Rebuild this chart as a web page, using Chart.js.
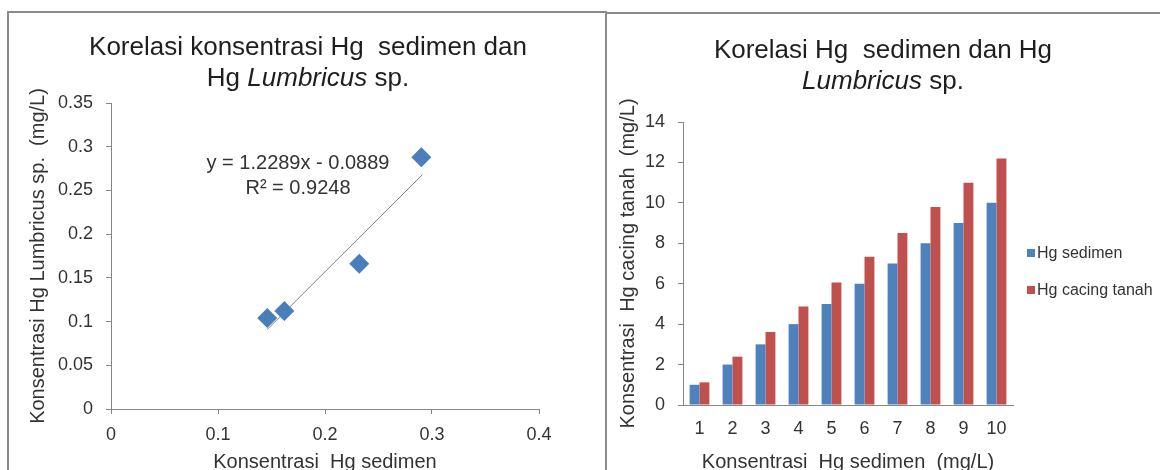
<!DOCTYPE html>
<html>
<head>
<meta charset="utf-8">
<script src="https://cdn.jsdelivr.net/npm/chart.js@4"></script>
<style>
  body{margin:0;width:1160px;height:470px;overflow:hidden;background:#fff;position:relative;
       font-family:"Liberation Sans",Arial,sans-serif;color:#222}
  .frame{position:absolute;box-sizing:border-box;border-top:2px solid #8a8a8a;border-left:2px solid #8a8a8a}
  .abs{position:absolute}
  .title{position:absolute;text-align:center;font-size:26px;line-height:31px;color:#1e1e1e;white-space:pre}
  .eq{position:absolute;text-align:center;font-size:20px;line-height:25px;color:#333;white-space:pre}
  .legend{position:absolute;left:1027px;font-size:16px;color:#333;white-space:pre}
  .legend span{display:inline-block;width:8px;height:8px;margin-right:2px;vertical-align:1px}
</style>
</head>
<body>
<div class="frame" style="left:7px;top:11px;width:600px;height:470px"></div>
<div class="frame" style="left:605px;top:12px;width:560px;height:470px"></div>

<canvas id="c1" class="abs" width="596" height="480" style="left:9px;top:13px"></canvas>
<canvas id="c2" class="abs" width="552" height="480" style="left:608px;top:14px"></canvas>

<div class="title" style="left:28px;top:31px;width:560px">Korelasi konsentrasi Hg  sedimen dan
Hg <i>Lumbricus</i> sp.</div>
<div class="title" style="left:633px;top:34px;width:500px">Korelasi Hg  sedimen dan Hg
<i>Lumbricus</i> sp.</div>
<div class="eq" style="left:178px;top:150px;width:240px">y = 1.2289x - 0.0889
R² = 0.9248</div>

<div class="legend" style="top:244px"><span style="background:#4F81BD"></span>Hg sedimen</div>
<div class="legend" style="top:281px"><span style="background:#C0504D"></span>Hg cacing tanah</div>

<script>
// left: scatter + trendline
const scatterX = [0.146, 0.162, 0.232, 0.290];
const scatterY = [0.104, 0.112, 0.166, 0.288];
const trendX = [0.146, 0.291];
const trendY = [0.091, 0.268];

// right: grouped bars
const categories = ['1','2','3','4','5','6','7','8','9','10'];
const hgSedimen = [1, 2, 3, 4, 5, 6, 7, 8, 9, 10];
const hgCacing  = [1.12, 2.39, 3.61, 4.87, 6.06, 7.33, 8.51, 9.80, 11.0, 12.19];

const FONT = '"Liberation Sans", Arial, sans-serif';
const axisCol = '#868686';
Chart.defaults.font.family = FONT;
Chart.defaults.color = '#333';
Chart.defaults.animation = false;

const trim = v => String(Number(v.toFixed(2)));

const pts = scatterX.map((x,i)=>({x, y: scatterY[i]}));
const trend = trendX.map((x,i)=>({x, y: trendY[i]}));

new Chart(document.getElementById('c1'), {
  type: 'scatter',
  data: { datasets: [
    { data: trend, type:'line', showLine:true, borderColor:'#7f7f7f', borderWidth:1, pointRadius:0, order:2 },
    { data: pts, pointStyle:'rectRot', pointRadius:10, pointHoverRadius:10,
      backgroundColor:'#4A7EBB', borderColor:'#4A7EBB', borderWidth:0, order:1 }
  ]},
  options: {
    responsive:false,
    layout:{ padding:{ top:90, right:66, left:0, bottom:0 } },
    plugins:{ legend:{display:false}, tooltip:{enabled:false} },
    scales:{
      x:{ type:'linear', min:0, max:0.4,
          ticks:{ stepSize:0.1, font:{size:18}, padding:10, color:'#333', callback:trim },
          grid:{ drawOnChartArea:false, color:axisCol, tickLength:5 },
          border:{ color:axisCol },
          title:{ display:true, text:'Konsentrasi  Hg sedimen', font:{size:20}, color:'#333', padding:{top:0,bottom:19} },
          afterFit(s){ s.height = 84; } },
      y:{ min:0, max:0.35,
          ticks:{ stepSize:0.05, font:{size:18}, padding:13, color:'#333', callback:trim },
          grid:{ drawOnChartArea:false, color:axisCol, tickLength:5 },
          border:{ color:axisCol },
          title:{ display:true, text:'Konsentrasi Hg Lumbricus sp.  (mg/L)', font:{size:20}, color:'#333', padding:{top:17,bottom:0} },
          afterFit(s){ s.width = 102; } }
    }
  }
});

new Chart(document.getElementById('c2'), {
  type: 'bar',
  data: { labels: categories, datasets: [
    { label:'Hg sedimen', data: hgSedimen, backgroundColor:'#4F81BD', categoryPercentage:0.6, barPercentage:1 },
    { label:'Hg cacing tanah', data: hgCacing, backgroundColor:'#C0504D', categoryPercentage:0.6, barPercentage:1 }
  ]},
  options: {
    responsive:false,
    layout:{ padding:{ top:108, right:147, left:0, bottom:0 } },
    plugins:{ legend:{display:false}, tooltip:{enabled:false} },
    scales:{
      x:{ ticks:{ font:{size:18}, padding:13, color:'#333' },
          grid:{ display:true, drawOnChartArea:false, drawTicks:false, color:axisCol },
          border:{ color:axisCol },
          title:{ display:true, text:'Konsentrasi  Hg sedimen  (mg/L)', font:{size:20}, color:'#333', padding:{top:0,bottom:20} },
          afterFit(s){ s.height = 89; } },
      y:{ min:0, max:14,
          ticks:{ stepSize:2, font:{size:18}, padding:13, color:'#333' },
          grid:{ drawOnChartArea:false, color:axisCol, tickLength:5 },
          border:{ color:axisCol },
          title:{ display:true, text:'Konsentrasi  Hg cacing tanah  (mg/L)', font:{size:20}, color:'#333', padding:{top:8,bottom:0} },
          afterFit(s){ s.width = 75; } }
    }
  }
});
</script>
</body>
</html>
